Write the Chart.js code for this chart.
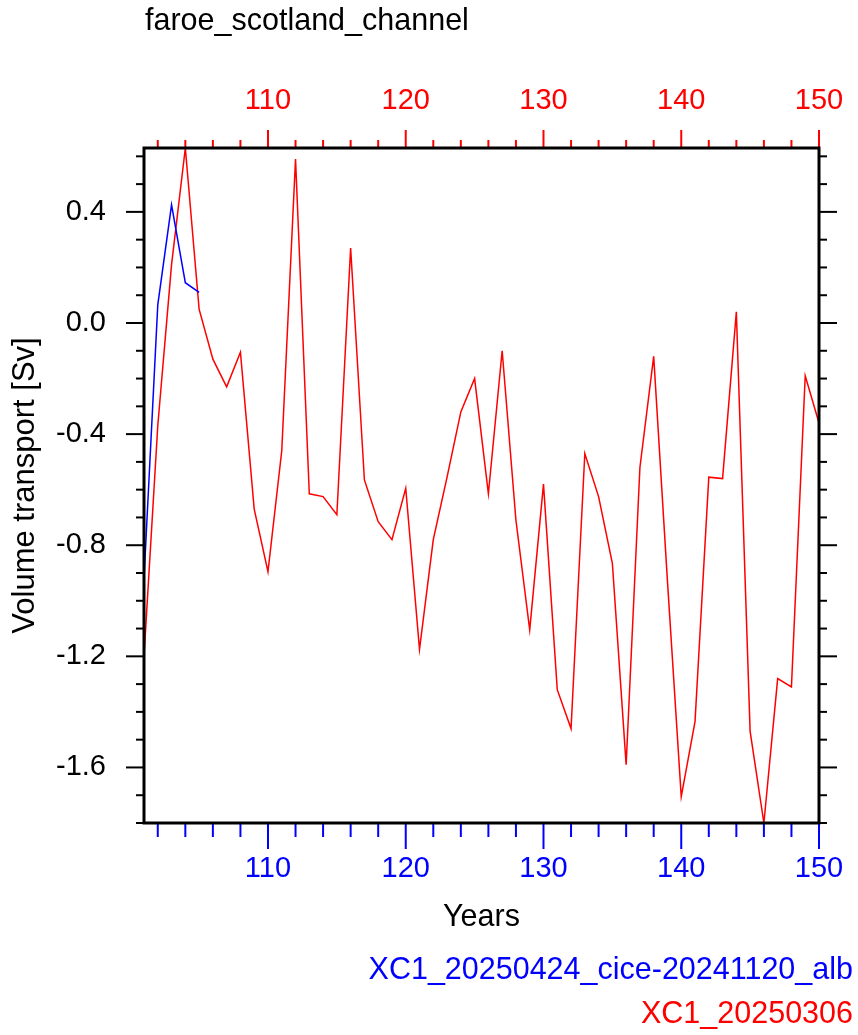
<!DOCTYPE html>
<html>
<head>
<meta charset="utf-8">
<title>faroe_scotland_channel</title>
<script src="https://cdn.jsdelivr.net/npm/chart.js@4.4.1/dist/chart.umd.min.js"></script>
<style>
  html, body { margin: 0; padding: 0; background: #fff; }
  canvas { display: block; }
</style>
</head>
<body>
<canvas id="line-chart" width="858" height="1035"></canvas>
<script>
// years on the x axis
const years = [101, 102, 103, 104, 105, 106, 107, 108, 109, 110,
               111, 112, 113, 114, 115, 116, 117, 118, 119, 120,
               121, 122, 123, 124, 125, 126, 127, 128, 129, 130,
               131, 132, 133, 134, 135, 136, 137, 138, 139, 140,
               141, 142, 143, 144, 145, 146, 147, 148, 149, 150];

// XC1_20250306 (red), volume transport in Sv
const transportRed = [-1.20, -0.37, 0.21, 0.63, 0.05, -0.13, -0.23, -0.105, -0.67, -0.895,
                      -0.46, 0.59, -0.615, -0.625, -0.69, 0.27, -0.565, -0.715, -0.78, -0.595,
                      -1.175, -0.78, -0.555, -0.32, -0.20, -0.615, -0.10, -0.71, -1.105, -0.58,
                      -1.32, -1.46, -0.47, -0.625, -0.865, -1.59, -0.52, -0.12, -0.93, -1.705,
                      -1.435, -0.555, -0.56, 0.04, -1.47, -1.80, -1.28, -1.31, -0.19, -0.36];

// XC1_20250424_cice-20241120_alb (blue), only the first five years
const transportBlue = [-0.92, 0.065, 0.425, 0.145, 0.11];

// tick positions and labels
const xTicks = [102, 104, 106, 108, 110, 112, 114, 116, 118, 120, 122, 124, 126,
                128, 130, 132, 134, 136, 138, 140, 142, 144, 146, 148, 150];
const xTickLabels = ['110', '120', '130', '140', '150'];
const yTicks = [-1.8, -1.7, -1.6, -1.5, -1.4, -1.3, -1.2, -1.1, -1.0, -0.9, -0.8, -0.7,
                -0.6, -0.5, -0.4, -0.3, -0.2, -0.1, 0.0, 0.1, 0.2, 0.3, 0.4, 0.5, 0.6];
const yTickLabels = ['-1.6', '-1.2', '-0.8', '-0.4', '0.0', '0.4'];

const FONT = "'Liberation Sans', Arial, Helvetica, sans-serif";
const BLUE = '#0000ff';
const RED = '#ff0000';

const yMin = Math.min(...transportRed, ...transportBlue);
const yMax = Math.max(...transportRed, ...transportBlue);

function fmtY(v) {
  const r = Math.round(v * 10) / 10;
  return (Math.abs(r) < 1e-9 ? 0 : r).toFixed(1);
}

// tick marks of two lengths, drawn outside the frame
const tickMarks = {
  id: 'tickMarks',
  afterDraw(chart) {
    const { ctx, chartArea: a, scales } = chart;
    ctx.save();
    ctx.lineWidth = 2;
    const vline = (x, y0, y1) => { ctx.beginPath(); ctx.moveTo(x, y0); ctx.lineTo(x, y1); ctx.stroke(); };
    const hline = (y, x0, x1) => { ctx.beginPath(); ctx.moveTo(x0, y); ctx.lineTo(x1, y); ctx.stroke(); };

    xTicks.forEach((v) => {
      const major = xTickLabels.includes(String(v));
      const px = scales.x.getPixelForValue(v);
      ctx.strokeStyle = BLUE;
      vline(px, a.bottom, a.bottom + (major ? 26 : 14));
      ctx.strokeStyle = RED;
      vline(px, a.top, a.top - (major ? 18 : 8));
    });
    ctx.strokeStyle = '#000';
    yTicks.forEach((v) => {
      const major = yTickLabels.includes(fmtY(v));
      const py = scales.y.getPixelForValue(v);
      if (py < a.top - 1 || py > a.bottom + 1) return;
      hline(py, a.left, a.left - (major ? 18 : 8));
      hline(py, a.right, a.right + (major ? 18 : 8));
    });

    // frame
    ctx.lineWidth = 3;
    ctx.strokeRect(a.left, a.top, a.right - a.left, a.bottom - a.top);

    // title and experiment names
    ctx.font = '30.5px ' + FONT;
    ctx.textBaseline = 'alphabetic';
    ctx.fillStyle = '#000';
    ctx.textAlign = 'left';
    ctx.fillText('faroe_scotland_channel', 145, 30);
    ctx.textAlign = 'right';
    ctx.fillStyle = BLUE;
    ctx.fillText('XC1_20250424_cice-20241120_alb', 853, 979);
    ctx.fillStyle = RED;
    ctx.fillText('XC1_20250306', 853, 1023);
    ctx.restore();
  }
};

// keep the frame fixed: no extra room for the outer tick labels
const noEdgePadding = (s) => { s.paddingLeft = 0; s.paddingRight = 0; };

const xCommon = {
  type: 'linear',
  min: years[0],
  max: years[years.length - 1],
  afterBuildTicks: (s) => { s.ticks = xTicks.map((v) => ({ value: v })); },
  grid: { display: false, drawTicks: false },
  border: { display: false },
};

const ctx = document.getElementById('line-chart').getContext('2d');
const chart = new Chart(ctx, {
  type: 'line',
  data: {
    datasets: [
      {
        label: 'XC1_20250424_cice-20241120_alb',
        data: transportBlue.map((v, i) => ({ x: years[i], y: v })),
        borderColor: BLUE,
        borderWidth: 1.5,
        pointRadius: 0,
        tension: 0,
        fill: false,
      },
      {
        label: 'XC1_20250306',
        data: transportRed.map((v, i) => ({ x: years[i], y: v })),
        borderColor: RED,
        borderWidth: 1.5,
        pointRadius: 0,
        tension: 0,
        fill: false,
      },
    ],
  },
  options: {
    responsive: false,
    animation: false,
    devicePixelRatio: 1,
    layout: { padding: 0 },
    plugins: { legend: { display: false }, title: { display: false }, tooltip: { enabled: false } },
    scales: {
      x: {
        ...xCommon,
        position: 'bottom',
        afterFit: (s) => { s.height = 212; noEdgePadding(s); },
        ticks: {
          color: BLUE, font: { family: FONT, size: 29 }, padding: 29,
          maxRotation: 0, autoSkip: false,
          callback: (v) => (xTickLabels.includes(String(v)) ? String(v) : ''),
        },
        title: { display: true, text: 'Years', color: '#000', font: { family: FONT, size: 30.5 },
                 padding: { top: 0, bottom: 99 } },
      },
      x2: {
        ...xCommon,
        position: 'top',
        afterFit: (s) => { s.height = 148; noEdgePadding(s); },
        ticks: {
          color: RED, font: { family: FONT, size: 29 }, padding: 30,
          maxRotation: 0, autoSkip: false,
          callback: (v) => (xTickLabels.includes(String(v)) ? String(v) : ''),
        },
      },
      y: {
        type: 'linear',
        position: 'left',
        min: yMin,
        max: yMax,
        afterBuildTicks: (s) => { s.ticks = yTicks.filter((v) => v >= yMin && v <= yMax).map((v) => ({ value: v })); },
        afterFit: (s) => { s.width = 144; s.paddingTop = 0; s.paddingBottom = 0; },
        grid: { display: false, drawTicks: false },
        border: { display: false },
        ticks: {
          color: '#000', font: { family: FONT, size: 29 }, padding: 38, autoSkip: false,
          callback: (v) => (yTickLabels.includes(fmtY(v)) ? fmtY(v) : ''),
        },
        title: { display: true, text: 'Volume transport [Sv]', color: '#000', font: { family: FONT, size: 31 },
                 padding: { top: 7, bottom: 0 } },
      },
      y2: {
        type: 'linear',
        position: 'right',
        min: yMin,
        max: yMax,
        afterFit: (s) => { s.width = 39; s.paddingTop = 0; s.paddingBottom = 0; },
        grid: { display: false, drawTicks: false },
        border: { display: false },
        ticks: { display: false },
      },
    },
  },
  plugins: [tickMarks],
});
</script>
</body>
</html>
